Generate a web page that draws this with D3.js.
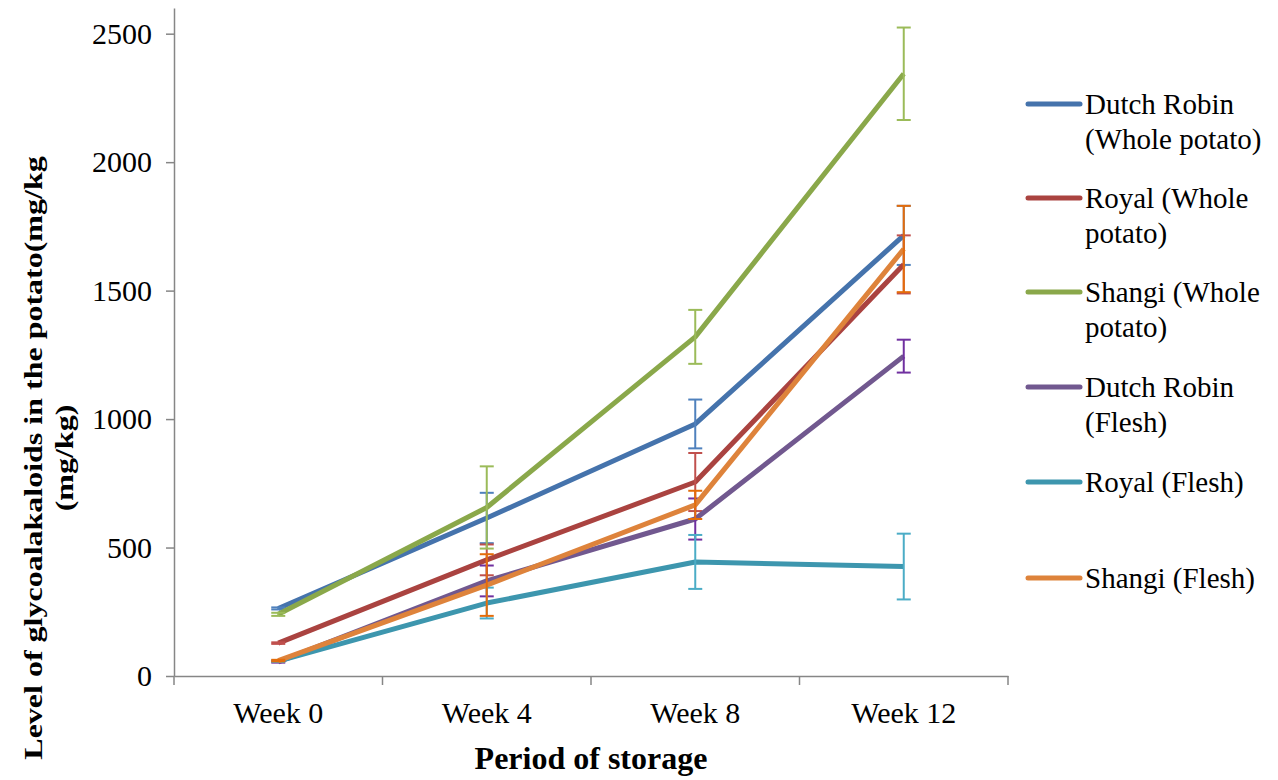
<!DOCTYPE html>
<html><head><meta charset="utf-8">
<script src="https://cdn.jsdelivr.net/npm/d3@7"></script>
<style>body{margin:0;background:#fff}svg{display:block}</style>
</head><body>
<svg id="c" width="1278" height="780"></svg>
<script>
const categories = ["Week 0", "Week 4", "Week 8", "Week 12"];
const seriesNames = ["Dutch Robin (Whole potato)", "Royal (Whole potato)", "Shangi (Whole potato)", "Dutch Robin (Flesh)", "Royal (Flesh)", "Shangi (Flesh)"];
const legendLines = [["Dutch Robin", "(Whole potato)"], ["Royal (Whole", "potato)"], ["Shangi (Whole", "potato)"], ["Dutch Robin", "(Flesh)"], ["Royal (Flesh)"], ["Shangi (Flesh)"]];
const dutchWhole = [263, 615, 981, 1715];
const royalWhole = [128, 452, 755, 1602];
const shangiWhole = [240, 656, 1320, 2344];
const dutchFlesh = [55, 370, 611, 1245];
const royalFlesh = [58, 284, 444, 426];
const shangiFlesh = [60, 354, 666, 1662];
const dutchWholeErr = [4, 98, 95, 115];
const royalWholeErr = [3, 60, 113, 113];
const shangiWholeErr = [6, 160, 105, 180];
const dutchFleshErr = [3, 60, 80, 64];
const royalFleshErr = [3, 60, 105, 128];
const shangiFleshErr = [3, 120, 55, 168];
const yTicks = [0, 500, 1000, 1500, 2000, 2500];
const lineColors = ["#4573AC", "#AA4340", "#8AA84A", "#71588F", "#3D96AE", "#DE833B"];
const errColors = ["#4F81BD", "#C0504D", "#9BBB59", "#7030A0", "#4BACC6", "#E46C0A"];

const values = [dutchWhole, royalWhole, shangiWhole, dutchFlesh, royalFlesh, shangiFlesh];
const errors = [dutchWholeErr, royalWholeErr, shangiWholeErr, dutchFleshErr, royalFleshErr, shangiFleshErr];

const svg = d3.select("#c");
const font = "'Liberation Serif','Times New Roman',serif";
const x = d3.scaleBand().domain(categories).range([174, 1008]);
const y = d3.scaleLinear().domain([0, 2600]).range([676, 8]);
const axisColor = "#868686";

// y axis
const ya = svg.append("g").attr("transform", "translate(174,0)")
  .call(d3.axisLeft(y).tickValues(yTicks).tickFormat(d3.format("d")).tickSize(8).tickSizeOuter(0).tickPadding(14));
ya.select(".domain").attr("stroke", axisColor).attr("stroke-width", 1.5);
ya.selectAll(".tick line").attr("stroke", axisColor).attr("stroke-width", 1.5);
ya.selectAll(".tick text").attr("font-family", font).attr("font-size", 30).attr("fill", "#000");

// x axis
const xa = svg.append("g").attr("transform", "translate(0,676)")
  .call(d3.axisBottom(x).tickSize(0).tickPadding(26));
xa.select(".domain").attr("stroke", axisColor).attr("stroke-width", 1.5);
xa.selectAll(".tick text").attr("font-family", font).attr("font-size", 30).attr("fill", "#000");
const bounds = categories.map(c => x(c)).concat([x.range()[1]]);
svg.append("g").selectAll("line").data(bounds).join("line")
  .attr("x1", d => d).attr("x2", d => d).attr("y1", 676).attr("y2", 685)
  .attr("stroke", axisColor).attr("stroke-width", 1.5);

const cx = c => x(c) + x.bandwidth() / 2;
const line = d3.line().x((d, i) => cx(categories[i])).y(d => y(d));

values.forEach((vals, s) => {
  const g = svg.append("g");
  g.append("path").datum(vals).attr("d", line).attr("fill", "none")
    .attr("stroke", lineColors[s]).attr("stroke-width", 5).attr("stroke-linejoin", "round");
  const eg = g.append("g").attr("stroke", errColors[s]).attr("stroke-width", 2);
  vals.forEach((v, i) => {
    const px = cx(categories[i]);
    const top = y(v + errors[s][i]), bot = y(v - errors[s][i]);
    eg.append("line").attr("x1", px).attr("x2", px).attr("y1", top).attr("y2", bot);
    eg.append("line").attr("x1", px - 7).attr("x2", px + 7).attr("y1", top).attr("y2", top);
    eg.append("line").attr("x1", px - 7).attr("x2", px + 7).attr("y1", bot).attr("y2", bot);
  });
});

// axis titles
svg.append("text").attr("x", 591).attr("y", 769).attr("text-anchor", "middle")
  .attr("font-family", font).attr("font-size", 32).attr("font-weight", "bold").text("Period of storage");
const yTitle = ["Level of glycoalakaloids in the potato(mg/kg", "(mg/kg)"];
const yTitleX = [42, 73];
yTitle.forEach((t, k) => {
  svg.append("text").attr("transform", `translate(${yTitleX[k]},458) rotate(-90) scale(1,0.78)`)
    .attr("text-anchor", "middle").attr("font-family", font).attr("font-size", 32)
    .attr("font-weight", "bold").text(t);
});

// legend
const legendY = [104, 198, 292, 387, 482, 578];
const lg = svg.append("g");
seriesNames.forEach((n, s) => {
  const ly = legendY[s];
  lg.append("line").attr("x1", 1028).attr("x2", 1080).attr("y1", ly).attr("y2", ly)
    .attr("stroke", lineColors[s]).attr("stroke-width", 5).attr("stroke-linecap", "round");
  const t = lg.append("text").attr("font-family", font).attr("font-size", 29).attr("fill", "#000");
  legendLines[s].forEach((l, k) => {
    t.append("tspan").attr("x", 1085).attr("y", ly + 10 + k * 35).text(l);
  });
});
</script>
</body></html>
